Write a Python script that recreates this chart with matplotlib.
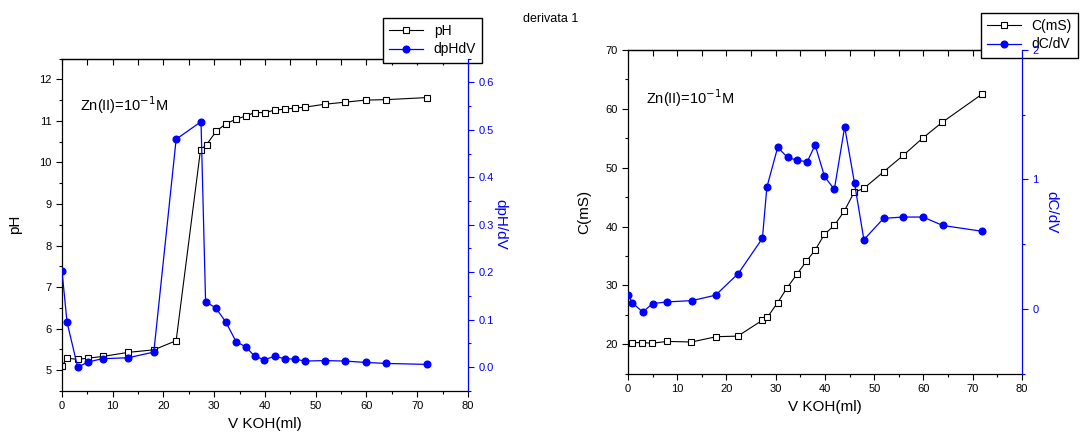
"""
Zn(II) titration with KOH: pH / conductivity curves and their derivatives
"""
import matplotlib
matplotlib.use("Agg")
import matplotlib.pyplot as plt
from matplotlib.ticker import MultipleLocator

plt.rcParams["font.family"] = ["Liberation Sans", "DejaVu Sans"]

# ---- left panel: pH titration ----
v_ph = [0, 1, 3.1, 5.1, 8, 13.1, 18.1, 22.5, 27.3, 28.5, 30.4, 32.3, 34.3, 36.3,
        38, 40, 42, 43.9, 46, 47.9, 51.8, 55.8, 59.9, 63.9, 71.9]
ph = [5.1, 5.29, 5.26, 5.29, 5.33, 5.43, 5.49, 5.71, 10.30, 10.43, 10.75, 10.93,
      11.04, 11.12, 11.2, 11.2, 11.26, 11.28, 11.31, 11.33, 11.4, 11.45, 11.5,
      11.51, 11.56]

v_dph = [0, 1, 3.1, 5.1, 8, 13.1, 18.1, 22.5, 27.4, 28.3, 30.3, 32.3, 34.3, 36.2,
         38, 39.9, 41.9, 43.9, 45.9, 47.9, 51.9, 55.8, 60, 63.9, 71.9]
dph = [0.203, 0.095, 0.0, 0.011, 0.018, 0.020, 0.032, 0.48, 0.517, 0.138, 0.125,
       0.095, 0.054, 0.043, 0.023, 0.016, 0.023, 0.018, 0.017, 0.013, 0.014,
       0.013, 0.010, 0.008, 0.006]

# ---- right panel: conductivity titration ----
v_c = [0.8, 2.8, 4.9, 8, 12.9, 17.9, 22.3, 27.3, 28.3, 30.4, 32.3, 34.3, 36.2, 38,
       39.9, 41.9, 43.9, 45.9, 47.9, 51.9, 55.9, 59.8, 63.8, 71.9]
cond = [20.3, 20.3, 20.2, 20.5, 20.4, 21.3, 21.4, 24.1, 24.6, 27.1, 29.6, 31.9,
        34.1, 36.0, 38.7, 40.2, 42.6, 45.8, 46.5, 49.3, 52.1, 55.0, 57.7, 62.5]

v_dc = [0, 0.9, 3, 5, 8, 13, 17.8, 22.4, 27.3, 28.2, 30.4, 32.4, 34.4, 36.4, 38,
        39.9, 41.9, 44, 46, 47.9, 51.9, 55.9, 59.9, 63.9, 71.9]
dc = [0.11, 0.047, -0.023, 0.042, 0.055, 0.065, 0.107, 0.274, 0.546, 0.94, 1.248,
      1.17, 1.148, 1.137, 1.266, 1.024, 0.923, 1.406, 0.971, 0.535, 0.70, 0.71,
      0.71, 0.645, 0.60]

BLUE = "#0000ff"

fig = plt.figure(figsize=(10.87, 4.37), dpi=100)


def style_panel(ax, axr, xlabel, ylabel, rlabel, ypad, rpad):
    ax.set_xlim(0, 80)
    ax.xaxis.set_major_locator(MultipleLocator(10))
    ax.xaxis.set_minor_locator(MultipleLocator(5))
    ax.tick_params(axis="both", which="both", direction="out", labelsize=8,
                   top=False, right=False)
    ax.tick_params(which="major", length=4, width=0.8)
    ax.tick_params(which="minor", length=2.5, width=0.8)
    ax.spines["right"].set_visible(False)
    for s in ("left", "bottom", "top"):
        ax.spines[s].set_linewidth(0.9)
    ax.set_xlabel(xlabel, fontsize=11)
    ax.set_ylabel(ylabel, fontsize=11, labelpad=ypad)

    # top axis: ticks pointing inward, no labels
    top = ax.secondary_xaxis("top")
    top.xaxis.set_major_locator(MultipleLocator(10))
    top.xaxis.set_minor_locator(MultipleLocator(5))
    top.tick_params(which="both", direction="in", labeltop=False, length=4, width=0.8)
    top.spines["top"].set_linewidth(0.9)

    for s in ("left", "top", "bottom"):
        axr.spines[s].set_visible(False)
    axr.spines["right"].set_color(BLUE)
    axr.spines["right"].set_linewidth(0.9)
    axr.tick_params(axis="y", which="both", colors=BLUE, direction="out", labelsize=8)
    axr.tick_params(which="major", length=4, width=0.8)
    axr.tick_params(which="minor", length=2.5, width=0.8)
    axr.set_ylabel(rlabel, color=BLUE, fontsize=11, rotation=270, labelpad=rpad)


# left panel
ax1 = fig.add_axes([0.057, 0.1053, 0.3735, 0.7608])
ax1r = ax1.twinx()
ax1.plot(v_ph, ph, color="black", lw=0.8, marker="s", ms=4, mfc="white",
         mec="black", mew=0.8, label="pH")
ax1r.plot(v_dph, dph, color=BLUE, lw=0.9, marker="o", ms=4.8, mfc=BLUE,
          mec=BLUE, label="dpHdV")
ax1.set_ylim(4.5, 12.5)
ax1.yaxis.set_major_locator(MultipleLocator(1))
ax1.yaxis.set_minor_locator(MultipleLocator(0.5))
ax1r.set_ylim(-0.05, 0.65)
ax1r.yaxis.set_major_locator(MultipleLocator(0.1))
ax1r.yaxis.set_minor_locator(MultipleLocator(0.05))
style_panel(ax1, ax1r, "V KOH(ml)", "pH", "dpH/dV", 12, 10)
ax1.text(0.045, 0.86, "Zn(II)=10$^{-1}$M", transform=ax1.transAxes,
         fontsize=10.5, va="center")
h1, l1 = ax1.get_legend_handles_labels()
h2, l2 = ax1r.get_legend_handles_labels()
ax1.legend(h1 + h2, l1 + l2, loc="upper left",
           bbox_to_anchor=(383 / 1087, 1 - 18 / 437), bbox_transform=fig.transFigure,
           fancybox=False, edgecolor="black", framealpha=1, fontsize=10,
           handlelength=2.4, borderpad=0.45, labelspacing=0.3, borderaxespad=0)

# right panel
ax2 = fig.add_axes([0.5777, 0.1446, 0.3625, 0.7412])
ax2r = ax2.twinx()
ax2.plot(v_c, cond, color="black", lw=0.8, marker="s", ms=4, mfc="white",
         mec="black", mew=0.8, label="C(mS)")
ax2r.plot(v_dc, dc, color=BLUE, lw=0.9, marker="o", ms=4.8, mfc=BLUE,
          mec=BLUE, label="dC/dV")
ax2.set_ylim(15, 70)
ax2.yaxis.set_major_locator(MultipleLocator(10))
ax2.yaxis.set_minor_locator(MultipleLocator(5))
ax2r.set_ylim(-0.5, 2)
ax2r.yaxis.set_major_locator(MultipleLocator(1))
ax2r.yaxis.set_minor_locator(MultipleLocator(0.5))
style_panel(ax2, ax2r, "V KOH(ml)", "C(mS)", "dC/dV", 10, 14)
ax2.text(0.045, 0.85, "Zn(II)=10$^{-1}$M", transform=ax2.transAxes,
         fontsize=10.5, va="center")
h1, l1 = ax2.get_legend_handles_labels()
h2, l2 = ax2r.get_legend_handles_labels()
ax2.legend(h1 + h2, l1 + l2, loc="upper left",
           bbox_to_anchor=(981 / 1087, 1 - 13 / 437), bbox_transform=fig.transFigure,
           fancybox=False, edgecolor="black", framealpha=1, fontsize=10,
           handlelength=2.4, borderpad=0.45, labelspacing=0.3, borderaxespad=0)

fig.text(551 / 1087, 1 - 19 / 437, "derivata 1", fontsize=9, ha="center", va="center")

fig.savefig("out.png", dpi=100)
